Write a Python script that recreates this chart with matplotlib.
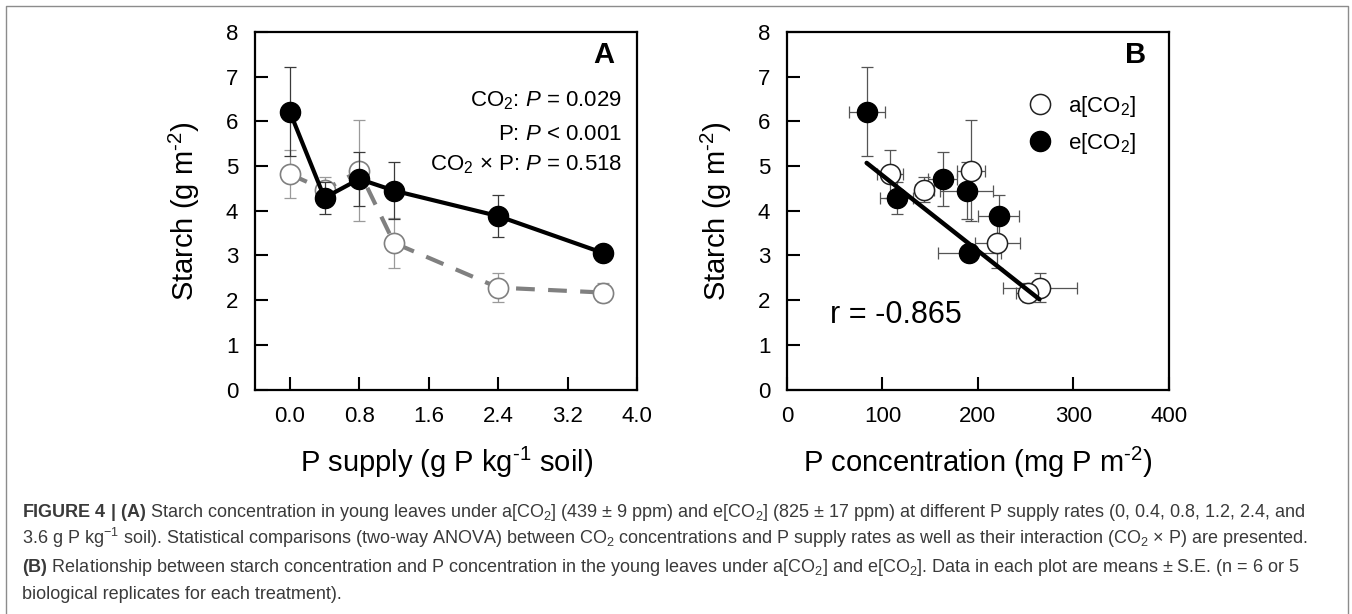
import numpy as np
import matplotlib
matplotlib.use('Agg')
import matplotlib.pyplot as plt
from matplotlib.lines import Line2D

plt.rcParams['font.family'] = ['Liberation Sans', 'DejaVu Sans']
plt.rcParams['mathtext.fontset'] = 'custom'
plt.rcParams['mathtext.rm'] = 'Liberation Sans'
plt.rcParams['mathtext.it'] = 'Liberation Sans:italic'
plt.rcParams['mathtext.bf'] = 'Liberation Sans:bold'

# ---------------- data ----------------
p_supply = [0.0, 0.4, 0.8, 1.2, 2.4, 3.6]            # g P kg-1 soil
starch_a = [4.82, 4.47, 4.89, 3.28, 2.28, 2.17]      # a[CO2], g m-2
se_starch_a = [0.54, 0.28, 1.13, 0.55, 0.32, 0.22]
starch_e = [6.22, 4.29, 4.71, 4.45, 3.88, 3.06]      # e[CO2], g m-2
se_starch_e = [0.99, 0.36, 0.61, 0.64, 0.47, 0.10]

pconc_a = [108, 144, 193, 220.5, 265, 253]           # mg P m-2
se_pconc_a = [14, 10, 15, 23.5, 39, 13]
pconc_e = [83.5, 115, 163, 188.4, 222.2, 190.8]
se_pconc_e = [19, 17.5, 15, 28, 21.5, 33]

fit_x = [83.5, 264.5]
fit_y = [5.07, 2.02]

xticks_a = [0.0, 0.8, 1.6, 2.4, 3.2, 4.0]
xticklabels_a = ['0.0', '0.8', '1.6', '2.4', '3.2', '4.0']
xticks_b = [0, 100, 200, 300, 400]
yticks = [0, 1, 2, 3, 4, 5, 6, 7, 8]

stats_lines = ['CO$_2$: $\\mathit{P}$ = 0.029',
               'P: $\\mathit{P}$ < 0.001',
               'CO$_2$ × P: $\\mathit{P}$ = 0.518']
legend_labels = ['a[CO$_2$]', 'e[CO$_2$]']
r_text = 'r = -0.865'
ylabel = 'Starch (g m$^{\u2010 2}$)'
xlabel_a = 'P supply (g P kg$^{\u2010 1}$ soil)'
xlabel_b = 'P concentration (mg P m$^{\u2010 2}$)'

caption_lines = [
    '$\\mathbf{FIGURE\\ 4\\ |\\ (A)}$ Starch concentration in young leaves under a[CO$_2$] (439 ± 9 ppm) and e[CO$_2$] (825 ± 17 ppm) at different P supply rates (0, 0.4, 0.8, 1.2, 2.4, and',
    '3.6 g P kg$^{-1}$ soil). Statistical comparisons (two-way ANOVA) between CO$_2$ concentrations and P supply rates as well as their interaction (CO$_2$ × P) are presented.',
    '$\\mathbf{(B)}$ Relationship between starch concentration and P concentration in the young leaves under a[CO$_2$] and e[CO$_2$]. Data in each plot are means ± S.E. (n = 6 or 5',
    'biological replicates for each treatment).',
]

# ---------------- figure ----------------
W, H = 1352, 614
fig = plt.figure(figsize=(W / 100, H / 100), dpi=100)
fig.patch.set_facecolor('white')


def px_axes(l, t, r, b):
    return fig.add_axes([l / W, 1 - b / H, (r - l) / W, (b - t) / H])


def style(ax):
    for s in ax.spines.values():
        s.set_linewidth(1.6)
        s.set_color('black')
    ax.tick_params(direction='in', length=9.5, width=1.5, pad=12,
                   labelsize=16, top=False, right=False)
    ax.set_ylim(0, 8)
    ax.set_yticks(yticks)


axA = px_axes(255, 32, 637.3, 389.5)
axB = px_axes(787, 32, 1168.6, 389.5)

# ---- Panel A ----
style(axA)
axA.set_xlim(-0.4, 4.0)
axA.set_xticks(xticks_a)
axA.set_xticklabels(xticklabels_a)
axA.errorbar(p_supply, starch_a, yerr=se_starch_a, fmt='none', ecolor='#9a9a9a',
             elinewidth=0.9, capsize=4.5, capthick=0.9, zorder=2)
axA.plot(p_supply, starch_a, color='#808080', lw=3, ls=(0, (4.5, 3.2)), zorder=3)
axA.plot(p_supply, starch_a, 'o', ms=14.5, mfc='white', mec='#808080', mew=1.2, zorder=4)
axA.errorbar(p_supply, starch_e, yerr=se_starch_e, fmt='none', ecolor='#3a3a3a',
             elinewidth=0.9, capsize=4.5, capthick=0.9, zorder=5)
axA.plot(p_supply, starch_e, color='black', lw=3, zorder=6)
axA.plot(p_supply, starch_e, 'o', ms=14.5, mfc='black', mec='black', mew=1, zorder=7)
axA.set_ylabel(ylabel, fontsize=21, labelpad=17)
axA.set_xlabel(xlabel_a, fontsize=21, labelpad=13)
axA.text(0.94, 0.935, 'A', transform=axA.transAxes, fontsize=21, fontweight='bold',
         ha='right', va='center')
baselines = [106, 140, 170]
for s, yb in zip(stats_lines, baselines):
    axA.text((622 - 255) / 382.3, (389.5 - yb) / 357.5, s, transform=axA.transAxes,
             fontsize=16, ha='right', va='baseline')

# ---- Panel B ----
style(axB)
axB.set_xlim(0, 400)
axB.set_xticks(xticks_b)
axB.errorbar(pconc_a, starch_a, xerr=se_pconc_a, yerr=se_starch_a, fmt='none',
             ecolor='#555555', elinewidth=0.9, capsize=4.5, capthick=0.9, zorder=2)
axB.errorbar(pconc_e, starch_e, xerr=se_pconc_e, yerr=se_starch_e, fmt='none',
             ecolor='#555555', elinewidth=0.9, capsize=4.5, capthick=0.9, zorder=2)
axB.plot(pconc_a, starch_a, 'o', ms=14.5, mfc='white', mec='#222222', mew=1.1,
         zorder=4, label=legend_labels[0])
axB.plot(pconc_e, starch_e, 'o', ms=14.5, mfc='black', mec='black', mew=1,
         zorder=4, label=legend_labels[1])
axB.plot(fit_x, fit_y, color='black', lw=3.2, solid_capstyle='round', zorder=5)
axB.set_ylabel(ylabel, fontsize=21, labelpad=17)
axB.set_xlabel(xlabel_b, fontsize=21, labelpad=13)
axB.text(0.94, 0.935, 'B', transform=axB.transAxes, fontsize=21, fontweight='bold',
         ha='right', va='center')
axB.text(45, 1.48, r_text, fontsize=22, ha='left', va='baseline')
leg = axB.legend(loc='upper left', bbox_to_anchor=(0.634, 0.827), frameon=False,
                 fontsize=16, handlelength=1.0, handletextpad=0.76, labelspacing=0.55,
                 borderpad=0, borderaxespad=0, numpoints=1)

# ---- caption ----
cap_baselines = [517, 544, 572, 599]
for line, yb in zip(caption_lines, cap_baselines):
    fig.text(22 / W, 1 - yb / H, line, fontsize=13, color='#3a3a3a',
             ha='left', va='baseline')

# ---- outer frame ----
fig.add_artist(Line2D([6 / W, 6 / W, 1347.5 / W, 1347.5 / W],
                      [0, 1 - 6 / H, 1 - 6 / H, 0], transform=fig.transFigure,
                      color='#8c8c8c', lw=1.0))

fig.savefig('out.png', dpi=100)
